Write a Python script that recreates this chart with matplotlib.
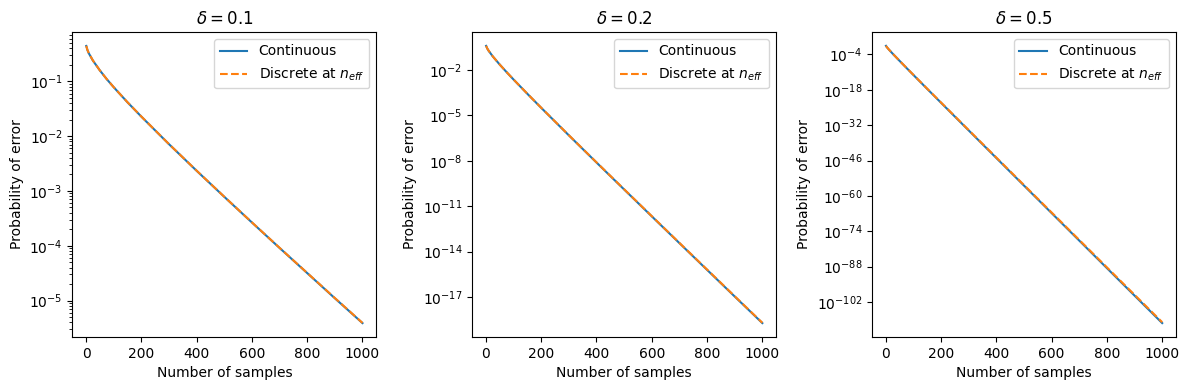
import matplotlib
matplotlib.use('Agg')
import matplotlib.pyplot as plt

# ---- data ----
deltas = [0.1, 0.2, 0.5]

n_d01 = [1, 5, 10, 25, 50, 75, 100, 150, 200, 300, 400, 500, 600, 700, 800, 900, 1000]
cont_d01 = [0.444, 0.376, 0.327, 0.240, 0.159, 0.110, 0.0786, 0.0416, 0.0228, 7.16e-3,
            2.34e-3, 7.83e-4, 2.66e-4, 9.13e-5, 3.17e-5, 1.10e-5, 3.87e-6]
disc_d01 = [0.446, 0.377, 0.328, 0.241, 0.159, 0.110, 0.0787, 0.0417, 0.0229, 7.18e-3,
            2.35e-3, 7.86e-4, 2.67e-4, 9.17e-5, 3.19e-5, 1.11e-5, 3.90e-6]

n_d02 = [1, 5, 10, 25, 50, 75, 100, 150, 200, 300, 400, 500, 600, 700, 800, 900, 1000]
cont_d02 = [0.389, 0.264, 0.186, 0.0786, 0.0228, 7.16e-3, 2.34e-3, 2.66e-4, 3.17e-5, 4.8e-7,
            7.7e-9, 1.27e-10, 2.13e-12, 3.62e-14, 6.2e-16, 1.07e-17, 1.87e-19]
disc_d02 = [0.391, 0.265, 0.187, 0.0790, 0.0229, 7.21e-3, 2.36e-3, 2.69e-4, 3.21e-5, 4.9e-7,
            7.9e-9, 1.31e-10, 2.20e-12, 3.75e-14, 6.5e-16, 1.12e-17, 1.97e-19]

n_d05 = [1, 3, 5, 10, 25, 50, 75, 100, 150, 200, 300, 400, 500, 600, 700, 800, 900, 1000]
cont_d05 = [0.240, 0.110, 0.0569, 0.0127, 2.03e-4, 2.87e-7, 4.6e-10, 7.7e-13, 2.32e-18, 7.6e-24,
            8.7e-35, 1.05e-45, 1.29e-56, 1.65e-67, 2.14e-78, 2.75e-89, 3.6e-100, 4.8e-111]
disc_d05 = [0.242, 0.111, 0.0575, 0.0130, 2.12e-4, 3.1e-7, 5.1e-10, 8.8e-13, 2.8e-18, 9.6e-24,
            1.2e-34, 1.6e-45, 2.1e-56, 2.9e-67, 4.0e-78, 5.5e-89, 7.6e-100, 1.1e-110]

series = [(n_d01, cont_d01, disc_d01), (n_d02, cont_d02, disc_d02), (n_d05, cont_d05, disc_d05)]

# ---- plotting style ----
CONT_C, DISC_C = '#1f77b4', '#ff7f0e'

fig, axes = plt.subplots(1, 3, figsize=(11.88, 3.9), dpi=100)
for ax, delta, (n, cont, disc) in zip(axes, deltas, series):
    ax.plot(n, cont, '-', color=CONT_C, label="Continuous")
    ax.plot(n, disc, '--', color=DISC_C, label=r"Discrete at $n_{eff}$")
    ax.set_yscale('log')
    ax.set_title(rf"$\delta = {delta}$")
    ax.set_xlabel("Number of samples")
    ax.set_ylabel("Probability of error")
    ax.legend(loc='upper right')

fig.subplots_adjust(left=0.061, right=0.9899, bottom=0.136, top=0.918, wspace=0.316)
fig.savefig("out.png", dpi=100)
